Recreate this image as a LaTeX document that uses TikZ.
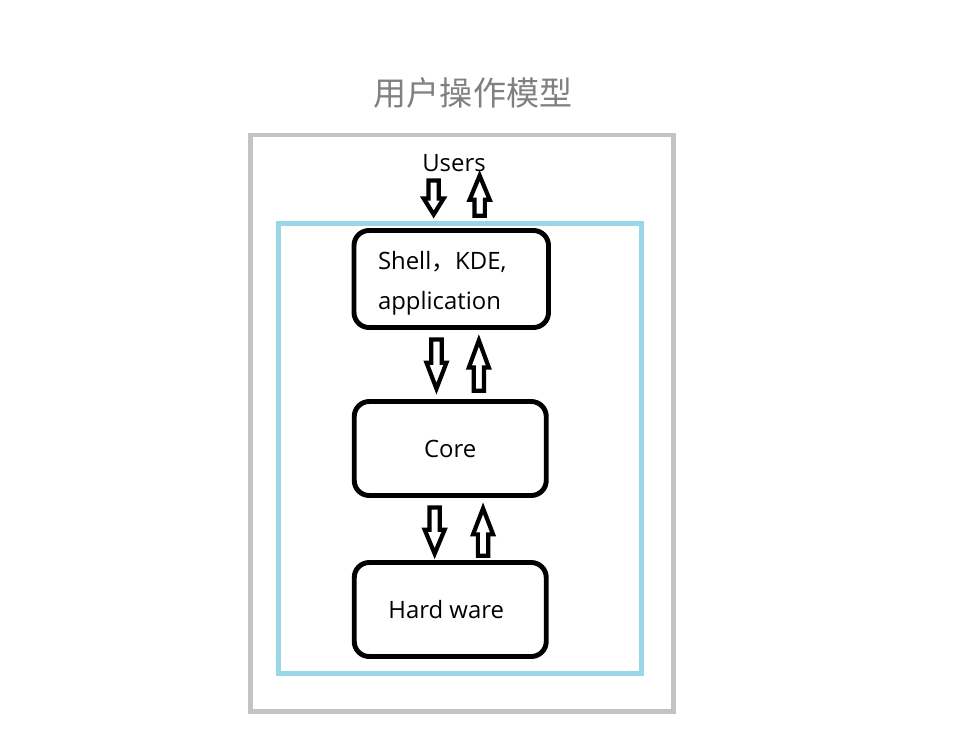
\documentclass[tikz,border=0pt]{standalone}
\usepackage{fontspec}
\setmainfont{Open Sans}
\newfontfamily\cjk{Noto Sans CJK SC}
\usetikzlibrary{calc}
\definecolor{framegray}{HTML}{C3C3C3}
\definecolor{layerblue}{HTML}{9AD7E6}
\definecolor{titlegray}{HTML}{808080}
\tikzset{
  layer/.style={draw=black, line width=3.5pt, rounded corners=0.375cm, minimum width=4.8cm, minimum height=2.35cm, font=\fontsize{17}{28.45}\selectfont},
  arrowline/.style={draw=black, line width=3pt, line join=miter}
}
\newcommand{\shaftw}{0.13}
\newcommand{\headw}{0.25}
\newcommand{\blockarrow}[3][0.65]{%
  \coordinate (hb) at ($(#3)!#1cm!(#2)$);
  \draw[arrowline] ($(#2)+(-\shaftw,0)$) -- ($(#2)+(\shaftw,0)$) -- ($(hb)+(\shaftw,0)$) -- ($(hb)+(\headw,0)$) -- (#3) -- ($(hb)+(-\headw,0)$) -- ($(hb)+(-\shaftw,0)$) -- cycle;}
\begin{document}
\begin{tikzpicture}
			\useasboundingbox (0, 0) rectangle (24.025, -18.525);
			
			\node[text=titlegray, font=\cjk\fontsize{23.5}{28}\selectfont] (title) at (11.825, -2.325) {用户操作模型};
			
			\draw[framegray, line width=3.4pt] (6.2625, -3.375) rectangle (16.8375, -17.7875);
			\draw[layerblue, line width=3.5pt] (6.9625, -5.5875) rectangle (16.0375, -16.8375);
			
			\node[font=\fontsize{17}{20}\selectfont, anchor=base] (users) at (11.35, -4.2925) {Users};
			
			\node[layer, minimum width=4.8625cm, minimum height=2.425cm, text width=3.6625cm, align=left] (shell) at (11.28125, -6.975) {\rule{0pt}{0.68cm}Shell{\cjk ，}KDE,\\application};
			\node[layer] (core) at (11.25625, -11.2125) {Core};
			\node[layer] (hw) at (11.25625, -15.2375) {Hard ware\kern0.2cm};
			
			\coordinate (d0) at ($(shell.north)+(-0.44, 1.19)$);
			\coordinate (d0t) at ($(shell.north)+(-0.44, 0.34)$);
			\coordinate (u0) at ($(shell.north)+(0.71, 0.31)$);
			\coordinate (u0t) at ($(shell.north)+(0.71, 1.31)$);
			
			\coordinate (d1) at ($(shell.south)+(-0.37, -0.24)$);
			\coordinate (d1t) at ($(d1 |- core.north)+(0, 0.26)$);
			\coordinate (u1) at ($(shell.south)+(0.69, 0)$);
			\coordinate (u1b) at ($(u1 |- core.north)+(0, 0.21)$);
			\coordinate (u1t) at ($(u1)+(0, -0.26)$);
			
			\coordinate (d2) at ($(core.south)+(-0.39, -0.24)$);
			\coordinate (d2t) at ($(d2 |- hw.north)+(0, 0.16)$);
			\coordinate (u2) at ($(core.south)+(0.82, -0.26)$);
			\coordinate (u2b) at ($(u2 |- hw.north)+(0, 0.11)$);
			
			\blockarrow[0.4]{d0}{d0t}
			\blockarrow[0.6]{u0}{u0t}
			\blockarrow{d1}{d1t}
			\blockarrow[0.68]{u1b}{u1t}
			\blockarrow[0.6]{d2}{d2t}
			\blockarrow{u2b}{u2}
		\end{tikzpicture}
\end{document}
